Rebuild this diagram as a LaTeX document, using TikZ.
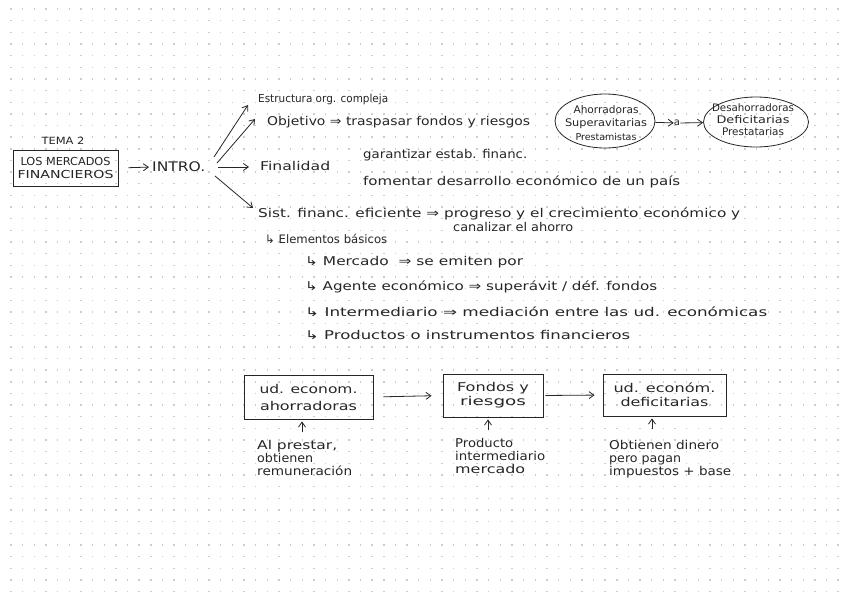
\documentclass[tikz,border=0pt]{standalone}
\usepackage{graphicx}
\usepackage{fontspec}
\setmainfont{DejaVu Sans}
\usetikzlibrary{arrows.meta,shapes.geometric}
\newlength\fwlen
\newcommand\fw[2]{\settowidth\fwlen{#2}%
  \pgfmathsetmacro\fwsx{#1/\fwlen}%
  \pgfmathsetmacro\fwsy{max(1.0,min(\fwsx,1.1))}%
  \scalebox{\fwsx}[\fwsy]{#2}}
\begin{document}
\begin{tikzpicture}[x=1pt,y=-1pt,
  hw/.style={font=\fontsize{11}{13}\selectfont, inner sep=0pt, text=black!85},
  lt/.style={hw, anchor=west},
  arr/.style={-{Straight Barb[length=5pt,width=7pt]}, line width=0.8pt, draw=black!85},
  box/.style={draw=black!85, line width=0.8pt, inner sep=0pt, align=center},
  oval/.style={ellipse, draw=black!85, line width=0.8pt, inner sep=0pt},
]
\useasboundingbox (0,0) rectangle (848,600);
\fill[white] (0,0) rectangle (848,600);
\foreach \i in {0,...,71}{\foreach \j in {0,...,50}{%
  \fill[black!20] ({10.3+\i*11.65},{8.3+\j*11.65}) rectangle +(1.4,1.4);}}

% title
\node[hw, font=\fontsize{9}{11}\selectfont] (tema) at (63,141) {\fw{43}{TEMA 2}};
\node[box, hw, font=\fontsize{10}{13}\selectfont, minimum width=105, minimum height=36] (lm) at (65.5,168) {\fw{90}{LOS MERCADOS}\\\fw{96}{FINANCIEROS}};
\node[lt, font=\fontsize{12}{14}\selectfont] (intro) at (152,167) {\fw{53}{INTRO.}};
\draw[arr, shorten <=10pt, shorten >=3pt] (lm.east) -- (intro.west);

% fan
\coordinate (h1) at (214,157);
\coordinate (h2) at (217,163);
\coordinate (h3) at (218,167);
\coordinate (h4) at (215,176);
\node[lt] (est) at (258,99) {\fw{130}{Estructura org. compleja}};
\node[lt] (obj) at (267,122) {\fw{263}{Objetivo ⇒ traspasar fondos y riesgos}};
\node[lt] (fin) at (260,166) {\fw{70}{Finalidad}};
\node[lt] (gar) at (363,155) {\fw{164}{garantizar estab. financ.}};
\node[lt] (fom) at (363,182) {\fw{317}{fomentar desarrollo económico de un país}};
\node[lt] (sist) at (258,214) {\fw{482}{Sist. financ. eficiente ⇒ progreso y el crecimiento económico y}};
\draw[arr] (h1) -- ([shift={(-10,6)}]est.west);
\draw[arr] (h2) -- ([shift={(-12,-3)}]obj.west);
\draw[arr] (h3) -- ([shift={(-11,1)}]fin.west);
\draw[arr] (h4) -- ([shift={(-5,-6)}]sist.west);

\node[lt] (can) at (453,227) {\fw{120}{canalizar el ahorro}};
\node[lt] (ele) at (265,239) {\fw{122}{↳ Elementos básicos}};
\node[lt] (mer) at (305,262) {\fw{218}{↳ Mercado \ ⇒ se emiten por}};
\node[lt] (age) at (305,287) {\fw{352}{↳ Agente económico ⇒ superávit / déf. fondos}};
\node[lt] (inm) at (305,312) {\fw{462}{↳ Intermediario ⇒ mediación entre las ud. económicas}};
\node[lt] (pro) at (305,335) {\fw{325}{↳ Productos o instrumentos financieros}};

% ellipses
\node[oval, minimum width=100, minimum height=54] (e1) at (605,121) {};
\node[hw, font=\fontsize{9.5}{13.5}\selectfont, align=center] (e1t) at (606,123) {\fw{65}{Ahorradoras}\\\fw{82}{Superavitarias}\\\fw{61}{Prestamistas}};
\node[hw, font=\fontsize{10}{11}\selectfont] (a) at (677,123) {a};
\node[oval, minimum width=105, minimum height=50] (e2) at (756,122) {};
\node[hw, font=\fontsize{9.5}{12}\selectfont, align=center] (e2t) at (753,120) {\fw{82}{Desahorradoras}\\\fw{73}{Deficitarias}\\\fw{62}{Prestatarias}};
\draw[arr] (e1) -- (a);
\draw[arr] (a) -- (e2);

% bottom chain
\node[box, hw, minimum width=129, minimum height=44, font=\fontsize{11}{17}\selectfont] (b1) at (308.5,397) {\fw{98}{ud. econom.}\\\fw{97}{ahorradoras}};
\node[box, hw, minimum width=100, minimum height=43, font=\fontsize{11}{14}\selectfont] (b2) at (493,395.5) {\fw{72}{Fondos y}\\\fw{66}{riesgos}};
\node[box, hw, minimum width=123, minimum height=42, font=\fontsize{11}{14}\selectfont] (b3) at (664.5,395) {\fw{102}{ud. económ.}\\\fw{88}{deficitarias}};
\draw[arr, shorten <=10pt, shorten >=11pt] (b1.east) -- (b2.west);
\draw[arr, shorten <=2pt, shorten >=8pt] (b2.east) -- (b3.west);

\node[hw, anchor=north west, align=left] (n1) at (257,440) {\fw{80}{Al prestar,}\\\fw{56}{obtienen}\\\fw{95}{remuneración}};
\node[hw, anchor=north west, align=left] (n2) at (455,438) {\fw{58}{Producto}\\\fw{90}{intermediario}\\\fw{70}{mercado}};
\node[hw, anchor=north west, align=left] (n3) at (609,440) {\fw{110}{Obtienen dinero}\\\fw{72}{pero pagan}\\\fw{122}{impuestos + base}};
\draw[arr] ([shift={(-6.5,13)}]b1.south) -- ([shift={(-6.5,2)}]b1.south);
\draw[arr] ([shift={(-5,13)}]b2.south) -- ([shift={(-5,2)}]b2.south);
\draw[arr] ([shift={(-12.5,13)}]b3.south) -- ([shift={(-12.5,2)}]b3.south);
\end{tikzpicture}
\end{document}
